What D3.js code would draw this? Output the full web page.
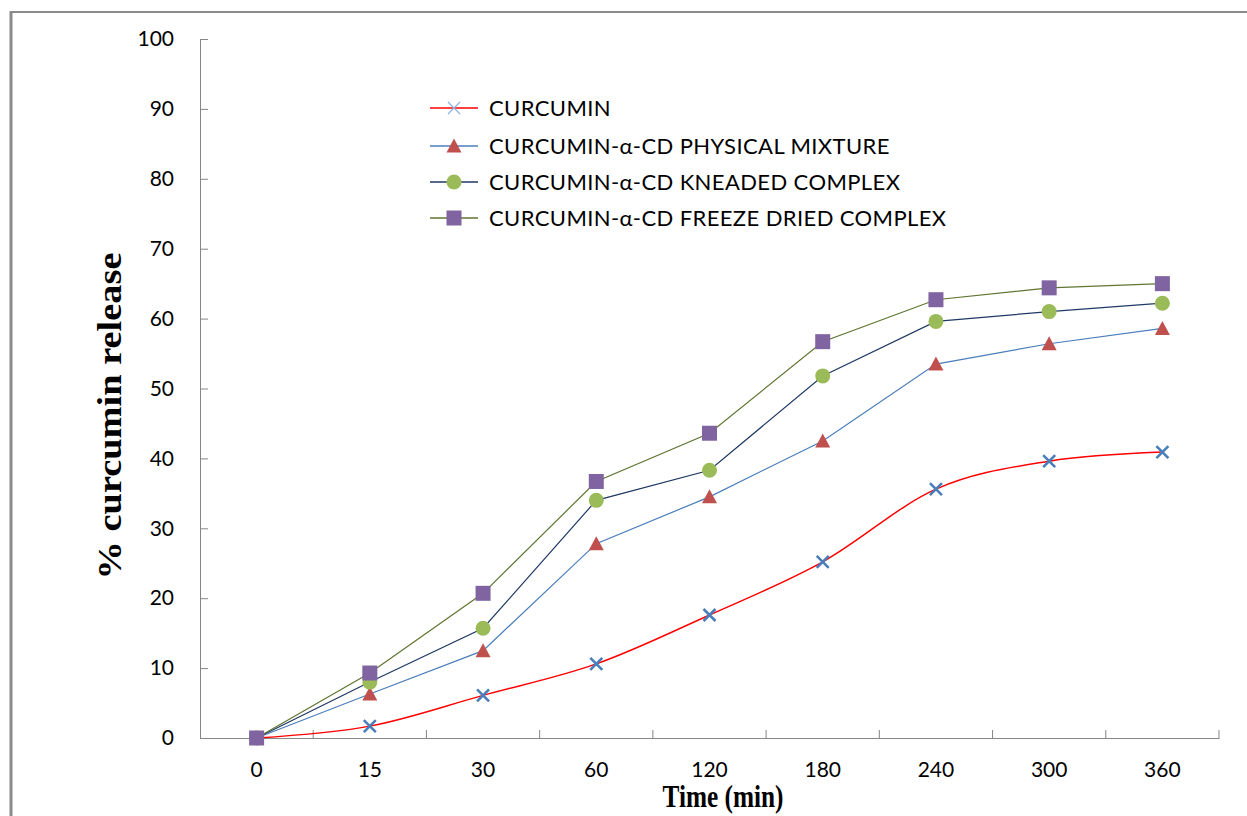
<!DOCTYPE html>
<html>
<head>
<meta charset="utf-8">
<script src="https://cdn.jsdelivr.net/npm/d3@7/dist/d3.min.js"></script>
<style>
  html, body { margin: 0; padding: 0; background: #fff; }
  svg { display: block; }
</style>
</head>
<body>
<svg id="chart" width="1247" height="816"></svg>
<script>
// Data (time points are categories, equally spaced)
var times = ["0", "15", "30", "60", "120", "180", "240", "300", "360"];
var yTicks = [0, 10, 20, 30, 40, 50, 60, 70, 80, 90, 100];

var curcumin     = [0, 1.7, 6.1, 10.6, 17.6, 25.2, 35.6, 39.6, 40.9];
var physicalMix  = [0, 6.3, 12.5, 27.8, 34.5, 42.5, 53.5, 56.4, 58.6];
var kneaded      = [0, 8.0, 15.7, 34.0, 38.3, 51.8, 59.6, 61.0, 62.2];
var freezeDried  = [0, 9.3, 20.7, 36.7, 43.6, 56.7, 62.7, 64.4, 65.0];

var seriesNames = [
  "CURCUMIN",
  "CURCUMIN-\u03B1-CD PHYSICAL MIXTURE",
  "CURCUMIN-\u03B1-CD KNEADED COMPLEX",
  "CURCUMIN-\u03B1-CD FREEZE DRIED COMPLEX"
];

// styles, kept apart from the values
var series = [
  { name: seriesNames[0], values: curcumin,    line: "#ff0000", marker: "x",        fill: "#4a7ebb", smooth: true },
  { name: seriesNames[1], values: physicalMix, line: "#4a7ebb", marker: "triangle", fill: "#c0504d", smooth: false },
  { name: seriesNames[2], values: kneaded,     line: "#1f3864", marker: "circle",   fill: "#9bbb59", smooth: false },
  { name: seriesNames[3], values: freezeDried, line: "#5f7530", marker: "square",   fill: "#8064a2", smooth: false }
];

var svg = d3.select("#chart");
var axisColor = "#868686";
var tickFont = "Lato, 'Open Sans', sans-serif";

var x = d3.scaleBand().domain(times).range([200, 1219]);
var y = d3.scaleLinear().domain([0, 100]).range([738, 39]);

// outer frame (only left and top edges are visible)
svg.append("line").attr("x1", 11).attr("x2", 11).attr("y1", 11).attr("y2", 816)
  .attr("stroke", "#8a8a8a").attr("stroke-width", 3);
svg.append("line").attr("x1", 10).attr("x2", 1247).attr("y1", 12).attr("y2", 12)
  .attr("stroke", "#8a8a8a").attr("stroke-width", 2);

// y axis
var yAxis = svg.append("g")
  .attr("transform", "translate(200,0)")
  .call(d3.axisLeft(y).tickValues(yTicks).tickSizeInner(-8).tickSizeOuter(-8).tickPadding(26));
yAxis.select(".domain").attr("stroke", axisColor);
yAxis.selectAll(".tick line").attr("stroke", axisColor);
yAxis.selectAll(".tick text").attr("font-family", tickFont).attr("font-size", 21).attr("fill", "#000");

// x axis: labels at band centres, tick marks at band edges
var xAxis = svg.append("g")
  .attr("transform", "translate(0,738)")
  .call(d3.axisBottom(x).tickSize(0).tickPadding(24));
xAxis.select(".domain").attr("stroke", axisColor);
xAxis.selectAll(".tick text").attr("font-family", tickFont).attr("font-size", 21).attr("fill", "#000");

var edges = times.slice(1).map(t => x(t)).concat([x.range()[1]]);
svg.append("g").selectAll("line").data(edges).join("line")
  .attr("x1", d => d).attr("x2", d => d)
  .attr("y1", 738).attr("y2", 730)
  .attr("stroke", axisColor);

// axis titles
svg.append("text")
  .attr("transform", "translate(121,416) rotate(-90)")
  .attr("text-anchor", "middle")
  .attr("font-family", "'Liberation Serif', 'Times New Roman', serif")
  .attr("font-weight", "bold").attr("font-size", 34)
  .attr("textLength", 327).attr("lengthAdjust", "spacingAndGlyphs")
  .text("% curcumin release");

svg.append("text")
  .attr("x", 723).attr("y", 807)
  .attr("text-anchor", "middle")
  .attr("font-family", "'Liberation Serif', 'Times New Roman', serif")
  .attr("font-weight", "bold").attr("font-size", 31)
  .attr("textLength", 121).attr("lengthAdjust", "spacingAndGlyphs")
  .text("Time (min)");

// markers
function drawMarker (g, type, fill) {
  if (type === "x") {
    g.append("path").attr("d", "M-6,-6L6,6M-6,6L6,-6")
      .attr("stroke", fill).attr("stroke-width", 2.6).attr("fill", "none");
  } else if (type === "triangle") {
    g.append("path").attr("d", "M0,-7.5L7.5,6.5L-7.5,6.5Z").attr("fill", fill);
  } else if (type === "circle") {
    g.append("circle").attr("r", 7.5).attr("fill", fill);
  } else {
    g.append("rect").attr("x", -7.5).attr("y", -7.5).attr("width", 15).attr("height", 15).attr("fill", fill);
  }
}

var cx = t => x(t) + x.bandwidth() / 2;

series.forEach(s => {
  var line = d3.line()
    .x((d, i) => cx(times[i]))
    .y(d => y(d))
    .curve(s.smooth ? d3.curveCardinal.tension(0) : d3.curveLinear);

  svg.append("path")
    .attr("d", line(s.values))
    .attr("fill", "none")
    .attr("stroke", s.line)
    .attr("stroke-width", s.smooth ? 1.5 : 1.2);

  s.values.forEach((v, i) => {
    var g = svg.append("g").attr("transform", "translate(" + cx(times[i]) + "," + y(v) + ")");
    drawMarker(g, s.marker, s.fill);
  });
});

// legend
var legendY = [108, 146, 182, 218];
series.forEach((s, i) => {
  var g = svg.append("g").attr("transform", "translate(0," + legendY[i] + ")");
  g.append("line").attr("x1", 430).attr("x2", 478).attr("y1", 0).attr("y2", 0)
    .attr("stroke", s.line).attr("stroke-width", 1.3);
  var m = g.append("g").attr("transform", "translate(454,0)");
  drawMarker(m, s.marker, s.marker === "x" ? "#8db3e2" : s.fill);
  if (s.marker === "x") m.select("path").attr("stroke-width", 1.2);
  g.append("text").attr("x", 489).attr("y", 0).attr("dy", "0.36em")
    .attr("font-family", tickFont).attr("font-size", 22).attr("letter-spacing", 0.4).attr("fill", "#000")
    .text(s.name);
});
</script>
</body>
</html>
